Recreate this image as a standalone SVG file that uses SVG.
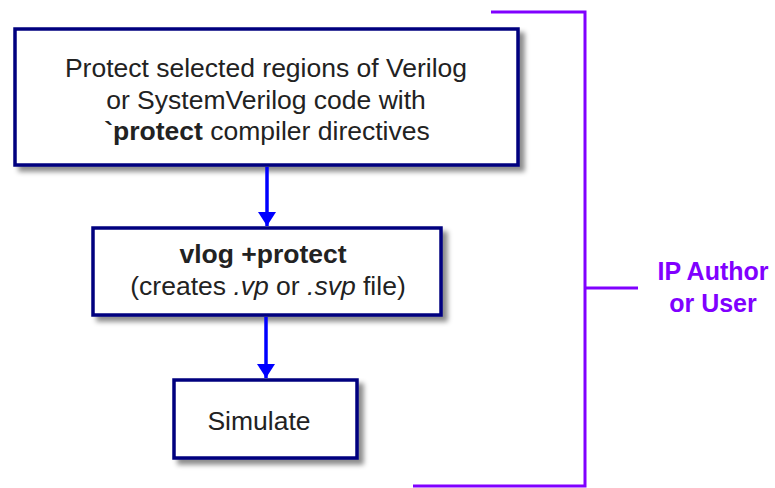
<svg xmlns="http://www.w3.org/2000/svg" width="775" height="488" viewBox="0 0 775 488">
<defs>
<filter id="sh" x="-10%" y="-10%" width="130%" height="140%">
<feDropShadow dx="5" dy="5" stdDeviation="2.5" flood-color="#000" flood-opacity="0.45"/>
</filter>
<marker id="ah" markerWidth="14" markerHeight="18" refX="14" refY="9" orient="auto" markerUnits="userSpaceOnUse" viewBox="0 0 14 18">
<path d="M0,0 L14,9 L0,18 Z" fill="#0000ff"/>
</marker>
<style>
.box{fill:#fff;stroke:#00007f;stroke-width:3.5;filter:url(#sh)}
.t{font-family:"Liberation Sans",Arial,sans-serif;font-size:26.5px;fill:#222;text-anchor:middle}
.b{font-weight:bold}
.conn{stroke:#0000ff;stroke-width:3.5;fill:none}
.br{stroke:#8000ff;stroke-width:3;fill:none}
.lab{font-family:"Liberation Sans",Arial,sans-serif;font-size:25px;font-weight:bold;fill:#8000ff;text-anchor:middle}
</style>
</defs>
<g id="node-protect">
<rect class="box" x="15" y="29" width="503" height="136"/>
<text class="t" x="266" y="77">Protect selected regions of Verilog</text>
<text class="t" x="266" y="109">or SystemVerilog code with</text>
<text class="t" x="267" y="140"><tspan class="b">`protect</tspan> compiler directives</text>
</g>
<g id="node-vlog">
<rect class="box" x="93" y="228" width="348" height="87"/>
<text class="t b" x="263" y="263">vlog +protect</text>
<text class="t" x="268" y="295">(creates <tspan font-style="italic">.vp</tspan> or <tspan font-style="italic">.svp</tspan> file)</text>
</g>
<g id="node-simulate">
<rect class="box" x="174" y="380" width="183" height="78"/>
<text class="t" x="259" y="430">Simulate</text>
</g>
<g id="connectors">
<line class="conn" x1="267" y1="167" x2="267" y2="226" marker-end="url(#ah)"/>
<line class="conn" x1="266" y1="317" x2="266" y2="378" marker-end="url(#ah)"/>
</g>
<g id="bracket">
<polyline class="br" points="491,12 585,12 585,486 413,486"/>
<line class="br" x1="585" y1="288" x2="638" y2="288"/>
<text class="lab" x="713" y="280">IP Author</text>
<text class="lab" x="713" y="312">or User</text>
</g>
</svg>
